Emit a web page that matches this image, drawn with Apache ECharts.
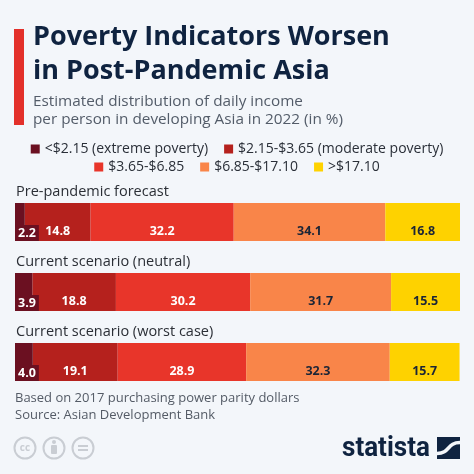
<!DOCTYPE html>
<html>
<head>
<meta charset="utf-8">
<script src="https://cdn.jsdelivr.net/npm/echarts@6/dist/echarts.min.js"></script>
<style>
html, body { margin: 0; padding: 0; background: #f3f6fa; }
#chart { width: 474px; height: 474px; }
</style>
</head>
<body>
<div id="chart"></div>
<script>
var scenarios = ['Pre-pandemic forecast', 'Current scenario (neutral)', 'Current scenario (worst case)'];
var brackets = ['<$2.15 (extreme poverty)', '$2.15-$3.65 (moderate poverty)', '$3.65-$6.85', '$6.85-$17.10', '>$17.10'];
var colors = ['#6b1021', '#b5211d', '#e8352a', '#f98549', '#fed200'];
var labelColors = ['#ffffff', '#ffffff', '#ffffff', '#1b2536', '#1b2536'];
var extreme = [2.2, 3.9, 4.0];
var moderate = [14.8, 18.8, 19.1];
var low = [32.2, 30.2, 28.9];
var middle = [34.1, 31.7, 32.3];
var upper = [16.8, 15.5, 15.7];
var values = [extreme, moderate, low, middle, upper];

var font = '"Open Sans", "Noto Sans", sans-serif';
var iconGrey = '#c9cdd3';

function makeSeries() {
	return brackets.map(function(name, i) {
		var label = {
			show: true,
			position: 'insideBottom',
			distance: 3,
			color: labelColors[i],
			fontFamily: font,
			fontWeight: 'bold',
			fontSize: 12.5,
			formatter: function(p) { return p.value.toFixed(1); }
		};
		// the first slice is too narrow, its label gets its own box
		if (i === 0) {
			label.position = 'insideBottomLeft';
			label.distance = 0;
			label.backgroundColor = colors[0];
			label.padding = [2, 3, 1, 3];
		}
		return {
			name: name,
			type: 'bar',
			stack: 'all',
			barWidth: 38,
			itemStyle: { color: colors[i] },
			label: label,
			data: values[i],
			z: i === 0 ? 3 : 2
		};
	});
}

var legendText = { color: '#2a2f38', fontFamily: font, fontSize: 14 };

var option = {
	backgroundColor: '#f3f6fa',
	animation: false,
	grid: { left: 15, right: 14, top: 187, height: 210, containLabel: false },
	xAxis: {
		type: 'value', min: 0, max: 100.1,
		show: false
	},
	yAxis: {
		type: 'category',
		data: scenarios,
		inverse: true,
		axisLine: { show: false },
		axisTick: { show: false },
		axisLabel: {
			inside: true,
			margin: 1,
			align: 'left',
			verticalAlign: 'bottom',
			padding: [0, 0, 23, 0],
			color: '#2b2f36',
			fontFamily: font,
			fontSize: 14.5
		},
		z: 5
	},
	legend: [{
		data: brackets.slice(0, 2),
		top: 137, left: 'center',
		icon: 'rect', itemWidth: 9, itemHeight: 9, itemGap: 16,
		textStyle: legendText,
		selectedMode: false
	}, {
		data: brackets.slice(2),
		top: 155, left: 'center',
		icon: 'rect', itemWidth: 9, itemHeight: 9, itemGap: 16,
		textStyle: legendText,
		selectedMode: false
	}],
	graphic: [
		{ type: 'rect', shape: { x: 14, y: 29, width: 10, height: 96 }, style: { fill: '#e3302a' } },
		{
			type: 'text', x: 33, y: 20,
			style: {
				text: 'Poverty Indicators Worsen\nin Post-Pandemic Asia',
				fill: '#0f2340', font: 'bold 27px ' + font, lineHeight: 34
			}
		},
		{
			type: 'text', x: 33, y: 93,
			style: {
				text: 'Estimated distribution of daily income\nper person in developing Asia in 2022 (in %)',
				fill: '#535c69', font: '15.3px ' + font, lineHeight: 18
			}
		},
		{
			type: 'text', x: 15, y: 390,
			style: {
				text: 'Based on 2017 purchasing power parity dollars\nSource: Asian Development Bank',
				fill: '#545b66', font: '13px ' + font, lineHeight: 17
			}
		},
		// licence icons
		{ type: 'circle', shape: { cx: 25, cy: 448, r: 10.5 }, style: { fill: 'none', stroke: iconGrey, lineWidth: 2 } },
		{ type: 'text', x: 25, y: 448, style: { text: 'cc', fill: iconGrey, font: 'bold 10px ' + font, align: 'center', verticalAlign: 'middle' } },
		{ type: 'circle', shape: { cx: 54, cy: 448, r: 10.5 }, style: { fill: 'none', stroke: iconGrey, lineWidth: 2 } },
		{ type: 'circle', shape: { cx: 54, cy: 442, r: 2 }, style: { fill: iconGrey } },
		{ type: 'rect', shape: { x: 51, y: 445, width: 6, height: 9, r: 1 }, style: { fill: iconGrey } },
		{ type: 'circle', shape: { cx: 83, cy: 448, r: 10.5 }, style: { fill: 'none', stroke: iconGrey, lineWidth: 2 } },
		{ type: 'rect', shape: { x: 78, y: 445, width: 10, height: 2 }, style: { fill: iconGrey } },
		{ type: 'rect', shape: { x: 78, y: 449, width: 10, height: 2 }, style: { fill: iconGrey } },
		// statista logo
		{
			type: 'text', x: 342, y: 449, scaleX: 0.93,
			style: { text: 'statista', fill: '#0f2340', font: 'bold 28px Roboto, sans-serif', verticalAlign: 'middle' }
		},
		{ type: 'rect', shape: { x: 437, y: 437, width: 23, height: 22 }, style: { fill: '#0f2340' } },
		{
			type: 'bezierCurve',
			shape: { x1: 437, y1: 453.5, x2: 460, y2: 442.5, cpx1: 450, cpy1: 453.5, cpx2: 447, cpy2: 442.5 },
			style: { stroke: '#f3f6fa', lineWidth: 3.5, fill: 'none' }
		}
	],
	series: makeSeries()
};

var chart = echarts.init(document.getElementById('chart'));
chart.setOption(option);
</script>
</body>
</html>
